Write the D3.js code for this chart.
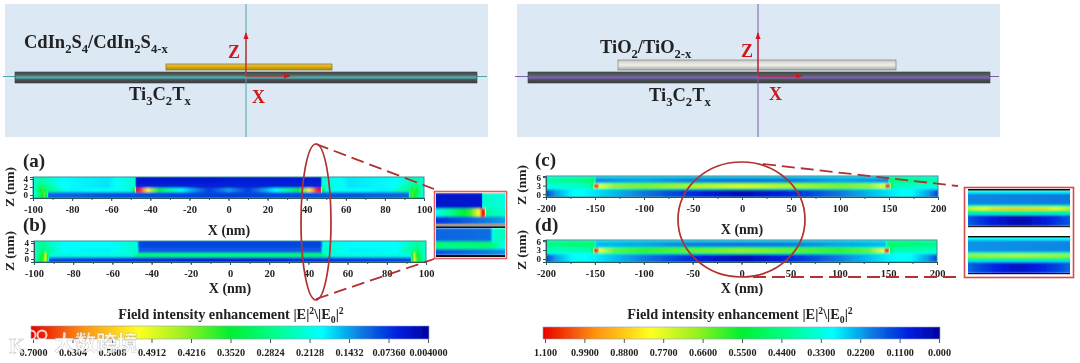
<!DOCTYPE html>
<html><head><meta charset="utf-8"><script src="https://cdn.jsdelivr.net/npm/d3@7"></script>
<style>html,body{margin:0;padding:0;background:#fff;overflow:hidden}svg{display:block}text{font-family:"Liberation Serif",serif;font-weight:700;fill:#222}</style></head>
<body><svg id="c" width="1080" height="363"></svg>
<script>
// colour map: fraction of colour bar -> colour
const cmapStops=[0,.08,.17,.27,.38,.5,.62,.73,.87,1];
const cmapColors=["#00009f","#0020e0","#0a78e0","#00ffff","#00ff90","#00f030","#a0f020","#ffff20","#ff9010","#e80000"];
const ticksLeft=[.7,.6304,.5608,.4912,.4216,.352,.2824,.2128,.1432,.0736,.004];
const labelsLeft=["0.7000","0.6304","0.5608","0.4912","0.4216","0.3520","0.2824","0.2128","0.1432","0.07360","0.004000"];
const ticksRight=[1.1,.99,.88,.77,.66,.55,.44,.33,.22,.11,0];
const labelsRight=["1.100","0.9900","0.8800","0.7700","0.6600","0.5500","0.4400","0.3300","0.2200","0.1100","0.000"];
// field panels: bands [zLow, zHigh, xs, values]
const xA=[-100,-96,-93,-85,-62,-48,-47,47,48,62,85,93,96,100];
const panelA=[
 [2.7,5,xA,[.3,.36,.33,.27,.25,.31,.06,.07,.31,.25,.27,.33,.36,.3]],
 [1.7,2.7,xA,[.29,.42,.38,.27,.25,.33,.07,.07,.33,.25,.27,.38,.42,.29]],
 [.7,1.7,[-100,-95,-93,-80,-50,-48,-47,-45,-40,-33,-25,-18,-10,0,10,18,25,33,40,45,47,48,50,80,93,95,100],
  [.28,.55,.4,.26,.29,.55,1,.95,.66,.42,.28,.2,.11,.2,.11,.2,.28,.42,.66,.95,1,.55,.29,.26,.4,.55,.28]],
 [-1,.7,[-100,-95,-94,-93,-92,0,92,93,94,95,100],[.27,.5,.58,.42,.15,.11,.15,.42,.58,.5,.27]]
];
const xB=[-100,-96,-93,-85,-62,-48,-46,46,48,62,85,93,96,100];
const panelB=[
 [2.8,5,xB,[.3,.38,.34,.27,.27,.31,.12,.12,.31,.27,.27,.34,.38,.3]],
 [1.5,2.8,xB,[.28,.42,.38,.27,.26,.33,.14,.14,.33,.26,.27,.38,.42,.28]],
 [.4,1.5,[-100,-95,-94,-92,-50,-47,-30,0,30,47,50,92,94,95,100],[.26,.55,.68,.3,.3,.42,.41,.41,.41,.42,.3,.3,.68,.55,.26]],
 [-1,.4,[-100,-95,-94,-93,-92,0,92,93,94,95,100],[.27,.58,.7,.4,.12,.07,.12,.4,.7,.58,.27]]
];
const xC=[-200,-160,-151,-149,-100,-50,0,50,100,149,151,160,200];
const panelC=[
 [5.7,6.6,xC,[.29,.33,.34,.25,.24,.24,.24,.24,.24,.25,.34,.33,.29]],
 [4.1,5.7,xC,[.36,.41,.42,.18,.2,.17,.16,.17,.2,.18,.42,.41,.36]],
 [3.5,4.1,xC,[.33,.35,.38,.32,.44,.44,.46,.44,.44,.32,.38,.35,.33]],
 [2.2,3.5,[-200,-155,-152,-150,-148,-145,-130,-100,0,100,130,145,148,150,152,155,200],[.3,.34,.55,1,1,.72,.62,.6,.7,.6,.62,.72,1,1,.55,.34,.3]],
 [1.6,2.2,xC,[.28,.29,.32,.36,.42,.42,.44,.42,.42,.36,.32,.29,.28]],
 [-1.2,1.6,[-200,-190,-170,-150,-100,-50,0,50,100,150,170,190,200],[.12,.2,.28,.25,.17,.09,.03,.09,.17,.25,.28,.2,.12]]
];
const xD=[-200,-160,-151,-149,-100,-50,0,50,100,147,150,160,200];
const panelD=[
 [5.7,6.6,xD,[.36,.37,.38,.25,.24,.24,.24,.24,.24,.25,.38,.37,.36]],
 [4.1,5.7,xD,[.4,.42,.42,.22,.2,.17,.16,.17,.2,.22,.42,.42,.4]],
 [3.5,4.1,xD,[.34,.36,.38,.32,.42,.44,.46,.44,.42,.32,.38,.36,.34]],
 [2.2,3.5,[-200,-155,-152,-150,-148,-145,-130,-100,0,100,130,145,148,150,152,155,200],[.34,.36,.55,1,1,.72,.58,.54,.62,.54,.58,.72,1,1,.55,.36,.34]],
 [1.6,2.2,xD,[.28,.28,.3,.34,.4,.4,.42,.4,.4,.34,.3,.28,.28]],
 [-1.2,1.6,[-200,-190,-170,-150,-100,-50,0,50,100,150,170,190,200],[.12,.2,.28,.26,.17,.09,.03,.09,.17,.26,.28,.2,.12]]
];
// inset panels: bands on a 0-100 box
const insetAtop=[
 [50,100,[0,66,68,100],[.05,.06,.33,.3]],
 [24,50,[0,25,50,62,68,71,73,100],[.28,.4,.55,.72,1,.9,.36,.32]],
 [0,24,[0,100],[.1,.2]]
];
const insetAbot=[
 [50,100,[0,78,85,100],[.15,.16,.33,.33]],
 [22,50,[0,70,80,100],[.4,.42,.4,.28]],
 [0,22,[0,100],[.13,.19]]
];
const insetCtop=[
 [91,100,[0,100],[.27,.27]],
 [58,91,[0,100],[.18,.17]],
 [52,58,[0,100],[.38,.4]],
 [44,52,[0,25,50,75,100],[.66,.78,.8,.78,.66]],
 [37,44,[0,100],[.48,.48]],
 [31,37,[0,100],[.3,.3]],
 [0,31,[0,25,50,75,100],[.14,.07,.02,.07,.14]]
];
const insetCbot=[
 [91,100,[0,100],[.27,.27]],
 [58,91,[0,100],[.19,.18]],
 [52,58,[0,100],[.36,.36]],
 [44,52,[0,50,100],[.62,.66,.62]],
 [37,44,[0,100],[.44,.44]],
 [31,37,[0,100],[.28,.28]],
 [0,31,[0,25,50,75,100],[.15,.09,.05,.09,.15]]
];
const xTicksLR=[-100,-80,-60,-40,-20,0,20,40,60,80,100];
const xTicksCD=[-200,-150,-100,-50,0,50,100,150,200];

const svg=d3.select("#c");
const defs=svg.append("defs");
const soft=defs.append("filter").attr("id","soft").attr("x","-2%").attr("y","-10%").attr("width","104%").attr("height","120%");
soft.append("feGaussianBlur").attr("stdDeviation","0.5 0.8");
const glob=defs.append("filter").attr("id","glob").attr("x","0").attr("y","0").attr("filterUnits","userSpaceOnUse");
glob.attr("width",1080).attr("height",363).append("feGaussianBlur").attr("stdDeviation","0.35");
defs.append("marker").attr("id","arr").attr("viewBox","0 0 8 8").attr("refX",7).attr("refY",4).attr("markerWidth",7).attr("markerHeight",7).attr("markerUnits","userSpaceOnUse").attr("orient","auto")
 .append("path").attr("d","M0,1L8,4L0,7Z").attr("fill","#d01818");
const root=svg.append("g").attr("filter","url(#glob)");
const cmap=d3.scaleLinear().domain(cmapStops).range(cmapColors).clamp(true);
let uid=0;
function field(g,bands,xs,ys){
 const id="clip"+(uid++);
 defs.append("clipPath").attr("id",id).append("rect").attr("x",xs.range()[0]).attr("width",xs.range()[1]-xs.range()[0])
  .attr("y",ys.range()[1]).attr("height",ys.range()[0]-ys.range()[1]);
 const inner=g.append("g").attr("clip-path",`url(#${id})`).append("g").attr("filter","url(#soft)");
 bands.forEach(([z0,z1,bx,bv])=>{
  const gid="g"+(uid++);
  const lg=defs.append("linearGradient").attr("id",gid).attr("gradientUnits","userSpaceOnUse")
   .attr("x1",xs.range()[0]).attr("x2",xs.range()[1]).attr("y1",0).attr("y2",0);
  const d0=xs.domain()[0],d1=xs.domain()[1];
  bx.forEach((x,i)=>{
   if(i>0){
    const p=bx[i-1],n=6;
    for(let k=1;k<n;k++){const f=k/n;lg.append("stop").attr("offset",((p+(x-p)*f)-d0)/(d1-d0)).attr("stop-color",cmap(bv[i-1]+(bv[i]-bv[i-1])*f));}
   }
   lg.append("stop").attr("offset",(x-d0)/(d1-d0)).attr("stop-color",cmap(bv[i]));
  });
  inner.append("rect").attr("x",xs.range()[0]-4).attr("width",xs.range()[1]-xs.range()[0]+8)
   .attr("y",ys(z1)).attr("height",ys(z0)-ys(z1)+.5).attr("fill",`url(#${gid})`);
 });
}
function styleAxis(a){a.selectAll("path,line").attr("stroke","#2a5a60").attr("stroke-width",1);a.selectAll("text").attr("font-size",9.5).attr("fill","#2b2b2b");}
function panel(bands,x0,x1,top,bot,dom,zdom,xt,zt){
 const xs=d3.scaleLinear().domain(dom).range([x0,x1]);
 const ys=d3.scaleLinear().domain(zdom).range([bot,top]);
 field(root,bands,xs,ys);
 root.append("rect").attr("x",x0).attr("y",top).attr("width",x1-x0).attr("height",bot-top).attr("fill","none").attr("stroke","#3d8f94").attr("stroke-width",1);
 const step=(xt[1]-xt[0])/2;
 const minors=d3.range(dom[0],dom[1]+.1,step);
 styleAxis(root.append("g").attr("transform",`translate(0,${bot})`).call(d3.axisBottom(xs).tickValues(minors).tickSize(2).tickFormat("")));
 const ax=root.append("g").attr("transform",`translate(0,${bot})`).call(d3.axisBottom(xs).tickValues(xt).tickSize(3).tickPadding(5).tickFormat(d=>String(d)));
 styleAxis(ax);ax.selectAll("text").attr("font-size",10.5);
 const zg=root.append("g").attr("transform",`translate(${x0},0)`).call(d3.axisLeft(ys).tickValues(zt).tickSize(3).tickPadding(2).tickFormat(d=>String(d)));
 styleAxis(zg);zg.selectAll("text").attr("font-size",9);
}
panel(panelA,33,424,177,198,[-100,100],[-.75,4.5],xTicksLR,[0,2,4]);
panel(panelB,34,426,241,262,[-100,100],[-.75,4.5],xTicksLR,[0,2,4]);
panel(panelC,546,938,176,197,[-200,200],[-1,6.4],xTicksCD,[0,3,6]);
panel(panelD,546,937,240,262,[-200,200],[-1,6.4],xTicksCD,[0,3,6]);

function label(x,y,parts,size,opts={}){
 const t=root.append("text").attr("x",x).attr("y",y).attr("font-size",size).attr("text-anchor",opts.anchor||"start").style("fill",opts.fill||"#222");
 if(opts.rotate)t.attr("transform",`rotate(-90,${x},${y})`);
 let shift=0;
 parts.forEach(p=>{
  const [s,m]=Array.isArray(p)?p:[p,0];
  const off=m==="sub"?size*.28:m==="sup"?-size*.38:0;
  const ts=t.append("tspan").text(s).attr("dy",off-shift);
  if(m)ts.attr("font-size",size*.68);
  shift=off;
 });
 return t;
}
function schematic(x0,axisX,lineColor,barX0,barX1,top){
 root.append("rect").attr("x",x0).attr("y",4).attr("width",483).attr("height",133).attr("fill","#dce8f4");
 root.append("line").attr("x1",x0-2).attr("x2",x0+482).attr("y1",76.5).attr("y2",76.5).attr("stroke",lineColor).attr("stroke-width",1);
 const gid="bar"+(uid++);
 const g=defs.append("linearGradient").attr("id",gid).attr("x1",0).attr("x2",0).attr("y1",0).attr("y2",1);
 [[0,"#444a4c"],[.25,"#505c5e"],[.45,lineColor],[.55,lineColor],[.7,"#4a5052"],[1,"#3a3e40"]].forEach(s=>g.append("stop").attr("offset",s[0]).attr("stop-color",s[1]));
 root.append("rect").attr("x",barX0).attr("y",72).attr("width",barX1-barX0).attr("height",11).attr("fill",`url(#${gid})`).attr("stroke","#3a3e40").attr("stroke-width",.6);
 const tg="top"+(uid++);
 const t=defs.append("linearGradient").attr("id",tg).attr("x1",0).attr("x2",0).attr("y1",0).attr("y2",1);
 top.stops.forEach(s=>t.append("stop").attr("offset",s[0]).attr("stop-color",s[1]));
 root.append("rect").attr("x",top.x0).attr("y",top.y0).attr("width",top.x1-top.x0).attr("height",top.y1-top.y0).attr("fill",`url(#${tg})`).attr("stroke",top.edge).attr("stroke-width",.8);
 root.append("line").attr("x1",axisX).attr("x2",axisX).attr("y1",4).attr("y2",137).attr("stroke",lineColor).attr("stroke-width",1);
 root.append("line").attr("x1",axisX).attr("x2",axisX).attr("y1",76).attr("y2",33).attr("stroke","#d01818").attr("stroke-width",1.2).attr("marker-end","url(#arr)");
 root.append("line").attr("x1",axisX).attr("x2",axisX+44).attr("y1",76).attr("y2",76).attr("stroke","#d01818").attr("stroke-width",1.2).attr("marker-end","url(#arr)");
}
schematic(5,246,"#4fa6a8",15,477,{x0:166,x1:332,y0:64,y1:70,edge:"#8a7a30",stops:[[0,"#e8c868"],[.4,"#e0b010"],[1,"#b08a10"]]});
schematic(517,758,"#7a5fb0",528,990,{x0:618,x1:896,y0:60,y1:70,edge:"#8a8a88",stops:[[0,"#c8c8c4"],[.5,"#f0f0ec"],[1,"#a8a8a4"]]});
label(24,48,["CdIn",["2","sub"],"S",["4","sub"],"/CdIn",["2","sub"],"S",["4-x","sub"]],18.5);
label(129,100,["Ti",["3","sub"],"C",["2","sub"],"T",["x","sub"]],18.5);
label(228,58,["Z"],18,{fill:"#d01818"});
label(252,103,["X"],18,{fill:"#d01818"});
label(600,53,["TiO",["2","sub"],"/TiO",["2-x","sub"]],18.5);
label(649,101,["Ti",["3","sub"],"C",["2","sub"],"T",["x","sub"]],18.5);
label(741,57,["Z"],18,{fill:"#d01818"});
label(769,100,["X"],18,{fill:"#d01818"});

label(23,167,["(a)"],19);label(23,231,["(b)"],19);label(535,166,["(c)"],19);label(535,231,["(d)"],19);
label(229,235,["X (nm)"],14,{anchor:"middle"});
label(230,293,["X (nm)"],14,{anchor:"middle"});
label(742,234,["X (nm)"],14,{anchor:"middle"});
label(742,293,["X (nm)"],14,{anchor:"middle"});
label(14,187,["Z (nm)"],13.5,{anchor:"middle",rotate:true});
label(14,251,["Z (nm)"],13.5,{anchor:"middle",rotate:true});
label(526,185,["Z (nm)"],13.5,{anchor:"middle",rotate:true});
label(526,250,["Z (nm)"],13.5,{anchor:"middle",rotate:true});

function inset(bands,x0,x1,y0,y1){
 field(root,bands,d3.scaleLinear().domain([0,100]).range([x0,x1]),d3.scaleLinear().domain([0,100]).range([y1,y0]));
}
root.append("rect").attr("x",434.5).attr("y",191.5).attr("width",72).attr("height",67).attr("fill","#fff").attr("stroke","#e06060").attr("stroke-width",1.6);
inset(insetAtop,436,505,193,224);
root.append("rect").attr("x",436).attr("y",224).attr("width",69).attr("height",3).attr("fill","#9a9a9a");
root.append("rect").attr("x",436).attr("y",226.5).attr("width",69).attr("height",1.5).attr("fill","#111");
inset(insetAbot,436,505,228,255);
root.append("rect").attr("x",436).attr("y",255).attr("width",69).attr("height",2).attr("fill","#111");
root.append("rect").attr("x",964.5).attr("y",187.5).attr("width",109).attr("height",90).attr("fill","#fff").attr("stroke","#d84848").attr("stroke-width",1.6);
inset(insetCtop,968,1070,190,226);
root.append("rect").attr("x",968).attr("y",189).attr("width",102).attr("height",1.5).attr("fill","#111");
root.append("rect").attr("x",968).attr("y",226).attr("width",102).attr("height",1.2).attr("fill","#222");
inset(insetCbot,968,1070,237,273);
root.append("rect").attr("x",968).attr("y",236).attr("width",102).attr("height",1.5).attr("fill","#111");
root.append("rect").attr("x",968).attr("y",273).attr("width",102).attr("height",1.2).attr("fill","#111");

const red="#b03030";
root.append("ellipse").attr("cx",316).attr("cy",222).attr("rx",15).attr("ry",78).attr("fill","none").attr("stroke",red).attr("stroke-width",1.7);
root.append("ellipse").attr("cx",741.5).attr("cy",219.5).attr("rx",63.5).attr("ry",57.5).attr("fill","none").attr("stroke",red).attr("stroke-width",1.7);
[[316,144,434,189],[316,299,434,259],[763,164,958,186],[753,277,958,277]].forEach(d=>
 root.append("line").attr("x1",d[0]).attr("y1",d[1]).attr("x2",d[2]).attr("y2",d[3]).attr("stroke",red).attr("stroke-width",1.8).attr("stroke-dasharray","13 6"));

function cbar(x0,x1,tx0,tx1,y0,y1,ticks,labels,titleX){
 const id="cb"+(uid++);
 const g=defs.append("linearGradient").attr("id",id);
 cmapStops.map((s,i)=>[1-s,cmapColors[i]]).reverse().forEach(d=>g.append("stop").attr("offset",d[0]).attr("stop-color",d[1]));
 root.append("rect").attr("x",x0).attr("y",y0).attr("width",x1-x0).attr("height",y1-y0).attr("fill",`url(#${id})`).attr("stroke","#8aa0c8").attr("stroke-width",.6);
 const sc=d3.scaleLinear().domain([ticks[0],ticks[ticks.length-1]]).range([tx0,tx1]);
 const a=root.append("g").attr("transform",`translate(0,${y1})`).call(d3.axisBottom(sc).tickValues(ticks).tickSize(4).tickPadding(6).tickFormat((d,i)=>labels[i]));
 a.select("path").remove();a.selectAll("line").attr("stroke","#555");a.selectAll("text").attr("font-size",10.2).attr("fill","#2b2b2b");
 label(titleX,319,["Field intensity enhancement |E|",["2","sup"],"\\|E",["0","sub"],"|",["2","sup"]],14.3,{anchor:"middle"});
}
cbar(31,429,33,428,326,339,ticksLeft,labelsLeft,231);
cbar(543,940,545,939,327,339,ticksRight,labelsRight,740);

const wm=svg.append("g").attr("opacity",.8);
wm.append("circle").attr("cx",31).attr("cy",335).attr("r",4.5).attr("fill","none").attr("stroke","#fff").attr("stroke-width",2);
wm.append("circle").attr("cx",42).attr("cy",335).attr("r",4.5).attr("fill","none").attr("stroke","#fff").attr("stroke-width",2);
wm.append("text").attr("x",9).attr("y",353).attr("font-size",20).style("fill","#fff").style("stroke","#aaa").style("stroke-width",.4).text("K");
wm.append("text").attr("x",54).attr("y",350).attr("font-size",21).style("font-family","'Noto Sans CJK SC'").style("fill","#fff").style("stroke","#999").style("stroke-width",.3).text("大数跨境");
</script></body></html>
